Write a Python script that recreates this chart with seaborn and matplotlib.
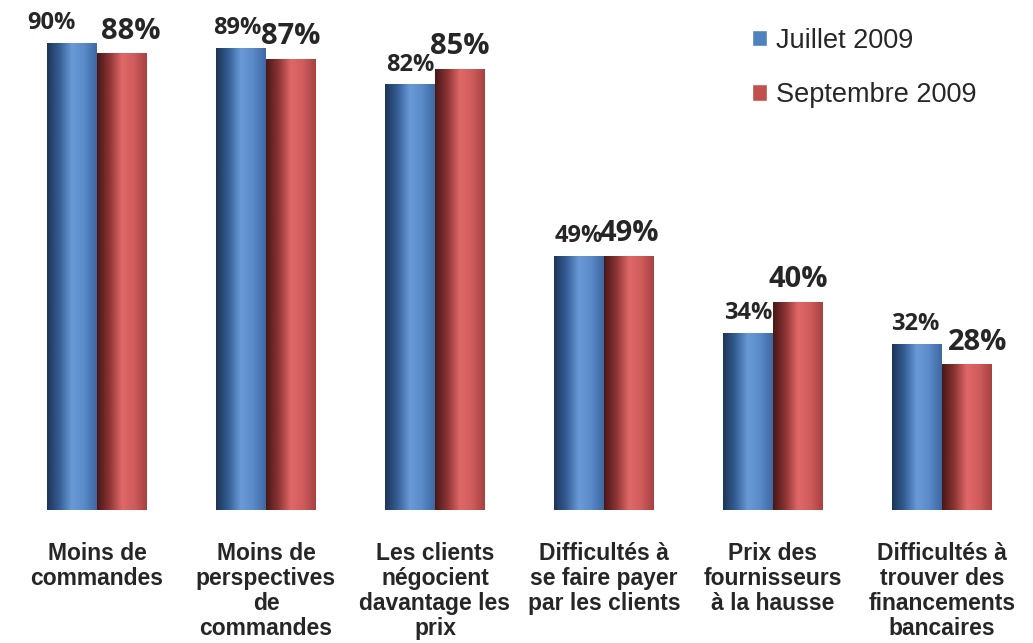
import numpy as np
import pandas as pd
import seaborn as sns
import matplotlib.pyplot as plt
from matplotlib.colors import LinearSegmentedColormap

categories = ["Moins de\ncommandes",
              "Moins de\nperspectives\nde\ncommandes",
              "Les clients\nnégocient\ndavantage les\nprix",
              "Difficultés à\nse faire payer\npar les clients",
              "Prix des\nfournisseurs\nà la hausse",
              "Difficultés à\ntrouver des\nfinancements\nbancaires"]
juillet = [90, 89, 82, 49, 34, 32]
septembre = [88, 87, 85, 49, 40, 28]
series = ["Juillet 2009", "Septembre 2009"]

df = pd.DataFrame({
    'cat': categories * 2,
    'val': juillet + septembre,
    'serie': [series[0]] * len(categories) + [series[1]] * len(categories),
})

sns.set_style("white")
plt.rcParams['font.family'] = ['Liberation Sans', 'DejaVu Sans']

palette = {series[0]: "#4F81BD", series[1]: "#C0504D"}
fig = plt.figure(figsize=(10.33, 6.43), dpi=100)
ax = fig.add_axes([0.0121, 0.2068, 0.9816, 0.7932])

sns.barplot(data=df, x='cat', y='val', hue='serie', palette=palette,
            width=0.59, gap=0, saturation=1, ax=ax, zorder=2)

# cylinder look : horizontal gradient in each bar
grads = {
    series[0]: LinearSegmentedColormap.from_list('b', ["#1E3558", "#355F96", "#6A9BD8", "#5A8AC8", "#3E69A3"]),
    series[1]: LinearSegmentedColormap.from_list('r', ["#4A1818", "#8E3434", "#E06868", "#D05C5C", "#A84242"]),
}
g = np.linspace(0, 1, 64).reshape(1, -1)
for cont, s in zip(ax.containers, series):
    for p in cont:
        x, y, w, h = p.get_x(), p.get_y(), p.get_width(), p.get_height()
        ax.imshow(g, cmap=grads[s], extent=[x, x + w, y, y + h],
                  aspect='auto', zorder=3, interpolation='bicubic')
        p.set_facecolor('none')
        p.set_edgecolor('none')

ax.set_xlim(-0.5, 5.5)
ax.set_ylim(0, 98.4)

# small horizontal nudges of the value labels (points)
nudge_j = [-15, -3, 0, 0, 0, -1]
nudge_s = [6, 0, 0, 0, 0, 8]
for cont, vals, fs, nud in zip(ax.containers, [juillet, septembre], [17, 21], [nudge_j, nudge_s]):
    anns = ax.bar_label(cont, labels=['%d%%' % v for v in vals], padding=6,
                        fontsize=fs, fontweight='bold', family='Open Sans', zorder=5)
    for a, dx in zip(anns, nud):
        a.xyann = (dx, a.xyann[1])

ax.set_xlabel('')
ax.set_ylabel('')
ax.set_yticks([])
ax.tick_params(axis='x', length=0, pad=23)
for t in ax.get_xticklabels():
    t.set_fontsize(16.5)
    t.set_fontweight('bold')
    t.set_linespacing(1.12)
sns.despine(ax=ax, left=True, bottom=True)

ax.legend(loc='upper left', bbox_to_anchor=(0.719, 0.967), frameon=False,
          fontsize=19.5, handlelength=0.55, handleheight=0.55, borderaxespad=0,
          handletextpad=0.33, labelspacing=1.05)

fig.savefig('out.png', dpi=100)
